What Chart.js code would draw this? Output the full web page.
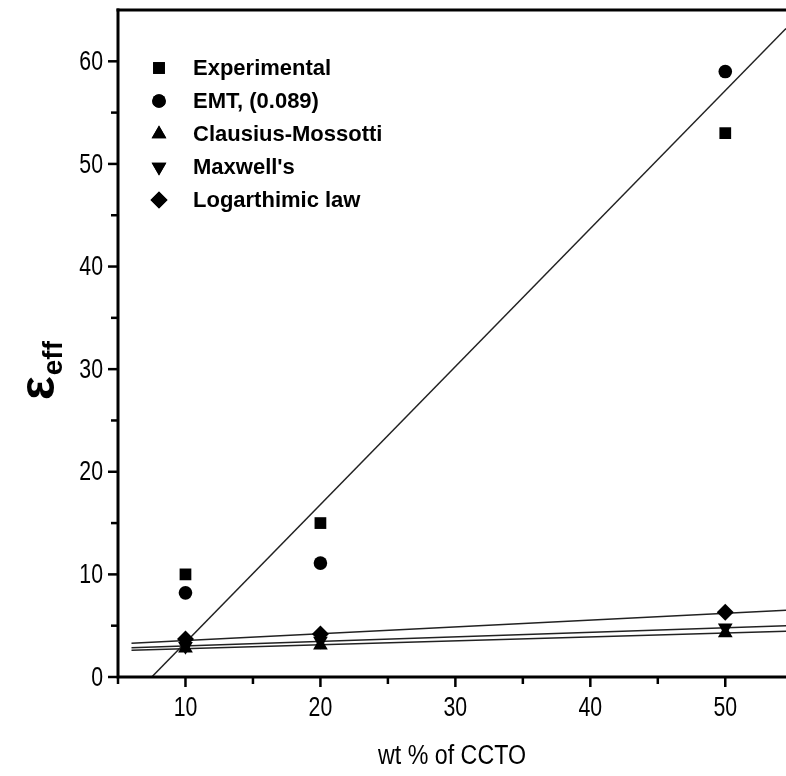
<!DOCTYPE html>
<html><head><meta charset="utf-8">
<script src="https://cdn.jsdelivr.net/npm/chart.js@4.4.1/dist/chart.umd.min.js"></script>
<style>html,body{margin:0;padding:0;background:#fff}#wrap{width:786px;height:776px;position:relative}</style>
</head><body><div id="wrap"><canvas id="c" width="786" height="776"></canvas></div>
<script>
// ---- data ----
const wtPercent = [10, 20, 50];
const experimental = [10, 15, 53];
const emt = [8.2, 11.1, 59];
const clausiusMossotti = [2.8, 3.1, 4.3];
const maxwell = [3.0, 3.5, 4.8];
const logLaw = [3.7, 4.2, 6.3];
// fitted straight lines (end points)
const emtFitX = [7.5, 54.5];
const emtFitY = [0, 63.2];
const modelFitX = [6, 54.5];
const cmFitY = [2.6, 4.45];
const maxwellFitY = [2.85, 5.0];
const logFitY = [3.3, 6.5];
// tick labels
const xMajorTicks = [10, 20, 30, 40, 50];
const yMajorTicks = [0, 10, 20, 30, 40, 50, 60];
const legendLabels = ['Experimental', 'EMT, (0.089)', 'Clausius-Mossotti', "Maxwell's", 'Logarthimic law'];
const xTitle = 'wt % of CCTO';

const pts = (xs, ys) => xs.map((v, i) => ({x: v, y: ys[i]}));
const FONT = "'Liberation Sans', Arial, sans-serif";

const markerStyles = [
  {pointStyle: 'rect', radius: 8.3, rotation: 0},
  {pointStyle: 'circle', radius: 6.8, rotation: 0},
  {pointStyle: 'triangle', radius: 8.5, rotation: 0},
  {pointStyle: 'triangle', radius: 8.5, rotation: 180},
  {pointStyle: 'rectRot', radius: 8.5, rotation: 0}
];
const seriesData = [experimental, emt, clausiusMossotti, maxwell, logLaw];

const scatterSets = seriesData.map((arr, i) => ({
  label: legendLabels[i],
  data: pts(wtPercent, arr),
  showLine: false,
  pointStyle: markerStyles[i].pointStyle,
  pointRadius: markerStyles[i].radius,
  pointRotation: markerStyles[i].rotation,
  pointBackgroundColor: '#000',
  pointBorderColor: '#000',
  pointBorderWidth: 0,
  order: 1
}));
const fitSet = (xs, ys) => ({
  data: pts(xs, ys), showLine: true, pointRadius: 0,
  borderColor: '#222', borderWidth: 1.5, fill: false, order: 2
});

function condensedText(ctx, text, x, y, sx, align) {
  ctx.save();
  ctx.translate(x, y);
  ctx.scale(sx, 1);
  ctx.textAlign = align;
  ctx.fillText(text, 0, 0);
  ctx.restore();
}

const framePlugin = {
  id: 'frame',
  afterDatasetsDraw(chart) {
    const {ctx, chartArea: a, scales: {x, y}} = chart;
    ctx.save();
    ctx.strokeStyle = '#000';
    ctx.fillStyle = '#000';
    ctx.lineWidth = 3;
    ctx.beginPath();
    ctx.moveTo(a.left, a.top - 1.5); ctx.lineTo(a.left, a.bottom); ctx.lineTo(a.right, a.bottom);
    ctx.stroke();
    ctx.beginPath(); ctx.moveTo(a.left - 1.5, a.top); ctx.lineTo(a.right, a.top); ctx.stroke();
    ctx.lineWidth = 2.5;
    for (let v = 5; v <= x.max; v += 5) {
      const px = x.getPixelForValue(v);
      const len = v % 10 === 0 ? 10 : 7;
      ctx.beginPath(); ctx.moveTo(px, a.bottom); ctx.lineTo(px, a.bottom + len); ctx.stroke();
    }
    for (let v = 0; v <= 60; v += 5) {
      const py = y.getPixelForValue(v);
      const len = v % 10 === 0 ? 10 : 7;
      ctx.beginPath(); ctx.moveTo(a.left, py); ctx.lineTo(a.left - len, py); ctx.stroke();
    }
    // tick labels
    ctx.font = "28px " + FONT;
    ctx.textBaseline = 'middle';
    xMajorTicks.forEach(v => condensedText(ctx, String(v), x.getPixelForValue(v), a.bottom + 31, 0.76, 'center'));
    yMajorTicks.forEach(v => condensedText(ctx, String(v), a.left - 15, y.getPixelForValue(v) + 1, 0.76, 'right'));
    // x title
    ctx.font = "27px " + FONT;
    condensedText(ctx, xTitle, (a.left + a.right) / 2, 757, 0.86, 'center');
    // legend
    ctx.textAlign = 'left';
    ctx.font = "bold 22px " + FONT;
    legendLabels.forEach((t, i) => {
      const yy = 68 + i * 33;
      Chart.helpers.drawPoint(ctx, {pointStyle: markerStyles[i].pointStyle, radius: markerStyles[i].radius,
        rotation: markerStyles[i].rotation, borderWidth: 0}, 159, yy);
      ctx.fill();
      condensedText(ctx, t, 193, yy + 1, 1.0, 'left');
    });
    // y title epsilon_eff
    ctx.translate(54, 400);
    ctx.rotate(-Math.PI / 2);
    ctx.textBaseline = 'alphabetic';
    ctx.textAlign = 'left';
    ctx.font = "bold 50px " + FONT;
    ctx.fillText('ε', 0, 0);
    const w = ctx.measureText('ε').width;
    ctx.font = "bold 28px " + FONT;
    ctx.fillText('eff', w + 1, 8);
    ctx.restore();
  }
};

new Chart(document.getElementById('c'), {
  type: 'scatter',
  data: {
    datasets: [
      ...scatterSets,
      fitSet(emtFitX, emtFitY),
      fitSet(modelFitX, cmFitY),
      fitSet(modelFitX, maxwellFitY),
      fitSet(modelFitX, logFitY)
    ]
  },
  options: {
    responsive: false,
    animation: false,
    layout: {autoPadding: false, padding: {top: 10, right: 0, left: 0, bottom: 0}},
    plugins: {legend: {display: false}, tooltip: {enabled: false}},
    scales: {
      x: {
        type: 'linear', min: 5, max: 54.5,
        grid: {display: false}, border: {display: false},
        afterBuildTicks: s => { s.ticks = xMajorTicks.map(v => ({value: v})); },
        afterFit: s => { s.height = 99; },
        ticks: {display: false}
      },
      y: {
        type: 'linear', min: 0, max: 65,
        grid: {display: false}, border: {display: false},
        afterBuildTicks: s => { s.ticks = yMajorTicks.map(v => ({value: v})); },
        afterFit: s => { s.width = 118; },
        ticks: {display: false}
      }
    }
  },
  plugins: [framePlugin]
});
</script>
</body></html>
